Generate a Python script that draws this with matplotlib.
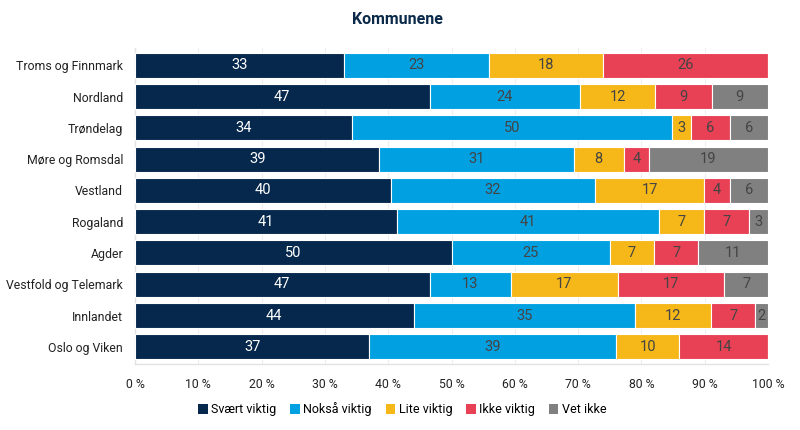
import matplotlib
matplotlib.use("Agg")
import matplotlib.pyplot as plt
import numpy as np
from matplotlib.patches import Patch

plt.rcParams['font.family'] = ['Roboto', 'DejaVu Sans']

regions = ["Troms og Finnmark", "Nordland", "Trøndelag", "Møre og Romsdal", "Vestland",
           "Rogaland", "Agder", "Vestfold og Telemark", "Innlandet", "Oslo og Viken"]
series_names = ["Svært viktig", "Nokså viktig", "Lite viktig", "Ikke viktig", "Vet ikke"]
svaert = [33, 47, 34, 39, 40, 41, 50, 47, 44, 37]
noksaa = [23, 24, 50, 31, 32, 41, 25, 13, 35, 39]
lite = [18, 12, 3, 8, 17, 7, 7, 17, 12, 10]
ikke = [26, 9, 6, 4, 4, 7, 7, 17, 7, 14]
vet = [0, 9, 6, 19, 6, 3, 11, 7, 2, 0]
xticks = [0, 10, 20, 30, 40, 50, 60, 70, 80, 90, 100]
xticklabels = [f"{v} %" for v in xticks]

colors = ["#05284c", "#00a0e1", "#f6b818", "#e84155", "#808080"]
text_colors = ["white", "#444444", "#444444", "#444444", "#444444"]

data = np.array([svaert, noksaa, lite, ikke, vet], dtype=float)
totals = data.sum(axis=0)
norm = data / totals * 100

fig = plt.figure(figsize=(8, 4.3), dpi=100)
ax = fig.add_axes([0.16875, 0.1535, 0.79125, 0.7345])

y = np.arange(len(regions))
left = np.zeros(len(regions))
for i, name in enumerate(series_names):
    ax.barh(y, norm[i], left=left, height=0.8, color=colors[i],
            edgecolor="white", linewidth=0.8, label=name, zorder=3)
    for j in range(len(regions)):
        if data[i, j] > 0:
            ax.text(left[j] + norm[i, j] / 2, y[j], f"{int(data[i, j])}",
                    ha="center", va="center", color=text_colors[i], fontsize=10.5, zorder=4)
    left += norm[i]

ax.set_ylim(len(regions) - 0.45, -0.55)
ax.set_xlim(0, 100)
ax.set_yticks(y)
ax.set_yticklabels(regions, fontsize=8.8, color="#222222")
ax.set_xticks(xticks)
ax.set_xticklabels(xticklabels, fontsize=8.8, color="#222222")
ax.tick_params(axis="y", length=0, pad=8.5)
ax.tick_params(axis="x", length=0, pad=10)
ax.grid(axis="x", color="#eeeeee", linewidth=0.8, zorder=0)
for s in ["top", "right"]:
    ax.spines[s].set_visible(False)
for s in ["left", "bottom"]:
    ax.spines[s].set_color("#e3e3e3")
    ax.spines[s].set_linewidth(1)

fig.text(0.497, 0.955, "Kommunene", ha="center", va="center", fontsize=11.5,
         fontweight="bold", color="#0b2a4a")

handles = [Patch(facecolor=c, edgecolor="none") for c in colors]
fig.legend(handles, series_names, loc="center", bbox_to_anchor=(0.503, 0.048), ncol=5,
           frameon=False, fontsize=9, handlelength=0.75, handleheight=0.75,
           handletextpad=0.3, columnspacing=1.1)

fig.savefig("out.png", dpi=100)
